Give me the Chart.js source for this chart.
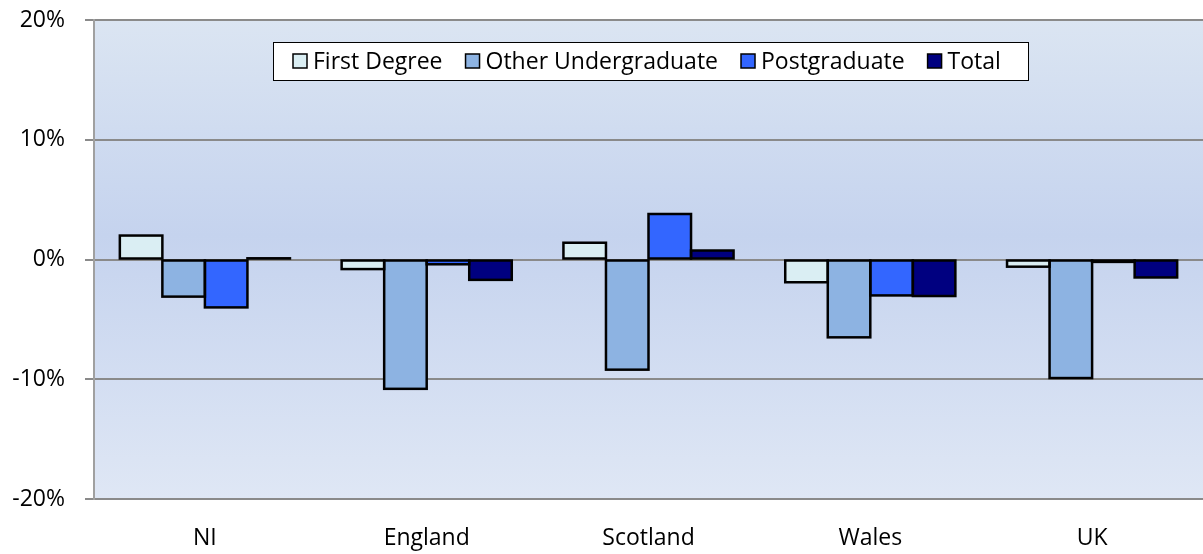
<!DOCTYPE html>
<html>
<head>
<meta charset="utf-8">
<script src="https://cdn.jsdelivr.net/npm/chart.js@4.4.1/dist/chart.umd.min.js"></script>
<style>
  html, body { margin: 0; padding: 0; background: #fff; }
  #wrap { width: 1203px; height: 554px; }
</style>
</head>
<body>
<div id="wrap"><canvas id="chart" width="1203" height="554"></canvas></div>
<script>
var categories = ["NI", "England", "Scotland", "Wales", "UK"];
var firstDegree = [2.0, -0.8, 1.4, -1.9, -0.6];
var otherUndergraduate = [-3.1, -10.8, -9.2, -6.5, -9.9];
var postgraduate = [-4.0, -0.4, 3.8, -3.0, -0.2];
var total = [0.1, -1.7, 0.75, -3.05, -1.5];

var FONT = "'Open Sans', 'Noto Sans', sans-serif";

// plot area gradient, light at the edges, darker around the middle
var plotBackground = {
  id: "plotBackground",
  beforeDraw: function (chart) {
    var a = chart.chartArea;
    var ctx = chart.ctx;
    var g = ctx.createLinearGradient(0, a.top, 0, a.bottom);
    g.addColorStop(0, "#dbe5f2");
    g.addColorStop(0.45, "#c5d3ee");
    g.addColorStop(1, "#dfe7f5");
    ctx.save();
    ctx.fillStyle = g;
    ctx.fillRect(a.left, a.top, a.right - a.left, a.bottom - a.top);
    ctx.restore();
  },
};

// Excel style outline: stroke centred on the bar edges so neighbours share it,
// and thin bars still get a full black line
var barOutline = {
  id: "barOutline",
  afterDatasetsDraw: function (chart) {
    var ctx = chart.ctx;
    ctx.save();
    ctx.strokeStyle = "#000000";
    ctx.lineWidth = 2.5;
    ctx.lineJoin = "miter";
    chart.data.datasets.forEach((ds, i) => {
      chart.getDatasetMeta(i).data.forEach((bar) => {
        var p = bar.getProps(["x", "y", "base", "width"], true);
        var left = p.x - p.width / 2;
        var top = Math.min(p.y, p.base);
        var h = Math.abs(p.base - p.y);
        ctx.strokeRect(left, top, p.width, h);
      });
    });
    ctx.restore();
  },
};

// boxed legend drawn inside the plot area
var boxedLegend = {
  id: "boxedLegend",
  afterDatasetsDraw: function (chart) {
    var ctx = chart.ctx;
    var a = chart.chartArea;
    var sets = chart.data.datasets;
    ctx.save();
    ctx.font = "23px " + FONT;
    var padL = 20, padR = 27, sq = 14, gap = 6, itemGap = 23;
    var widths = sets.map((ds) => ctx.measureText(ds.label).width);
    var inner = widths.reduce((s, w) => s + sq + gap + w, 0) + itemGap * (sets.length - 1);
    var w = Math.round(inner + padL + padR);
    var h = 38;
    var x0 = Math.round((a.left + a.right) / 2 - w / 2) + 2;
    var y0 = a.top + 22;
    ctx.fillStyle = "#ffffff";
    ctx.fillRect(x0, y0, w, h);
    ctx.strokeStyle = "#000000";
    ctx.lineWidth = 1;
    ctx.strokeRect(x0 + 0.5, y0 + 0.5, w, h);
    var x = x0 + padL;
    var cy = y0 + h / 2;
    sets.forEach((ds, i) => {
      ctx.fillStyle = ds.backgroundColor;
      ctx.fillRect(x, cy - sq / 2, sq, sq);
      ctx.lineWidth = 1.5;
      ctx.strokeStyle = "#000";
      ctx.strokeRect(x, cy - sq / 2, sq, sq);
      ctx.fillStyle = "#000";
      ctx.textBaseline = "middle";
      ctx.textAlign = "left";
      ctx.fillText(ds.label, x + sq + gap, cy + 1);
      x += sq + gap + widths[i] + itemGap;
    });
    ctx.restore();
  },
};

function barSet(label, data, color) {
  return {
    label: label,
    data: data,
    backgroundColor: color,
    borderWidth: 0,
    inflateAmount: 0,
    categoryPercentage: 0.767,
    barPercentage: 1.0,
  };
}

new Chart(document.getElementById("chart"), {
  type: "bar",
  data: {
    labels: categories,
    datasets: [
      barSet("First Degree", firstDegree, "#daeef3"),
      barSet("Other Undergraduate", otherUndergraduate, "#8db3e2"),
      barSet("Postgraduate", postgraduate, "#3366ff"),
      barSet("Total", total, "#000080"),
    ],
  },
  options: {
    responsive: false,
    animation: false,
    layout: { padding: { top: 20, right: 0, left: 0, bottom: 0 } },
    scales: {
      x: {
        grid: { display: false, drawTicks: false },
        border: { display: false },
        ticks: {
          color: "#000",
          font: { family: FONT, size: 23 },
          padding: 26,
        },
        afterFit: function (scale) {
          scale.height = 55;
        },
      },
      y: {
        min: -20,
        max: 20,
        grid: {
          color: "#8a8a8a",
          lineWidth: 2,
          tickLength: 9,
        },
        border: { display: true, color: "#a0a0a0", width: 2 },
        ticks: {
          stepSize: 10,
          color: "#000",
          font: { family: FONT, size: 23 },
          padding: 20,
          callback: function (v) {
            return v + "%";
          },
        },
        afterFit: function (scale) {
          scale.width = 94;
          scale.paddingTop = 0;
          scale.paddingBottom = 0;
        },
      },
    },
    plugins: {
      legend: { display: false },
      tooltip: { enabled: false },
    },
  },
  plugins: [plotBackground, barOutline, boxedLegend],
});
</script>
</body>
</html>
